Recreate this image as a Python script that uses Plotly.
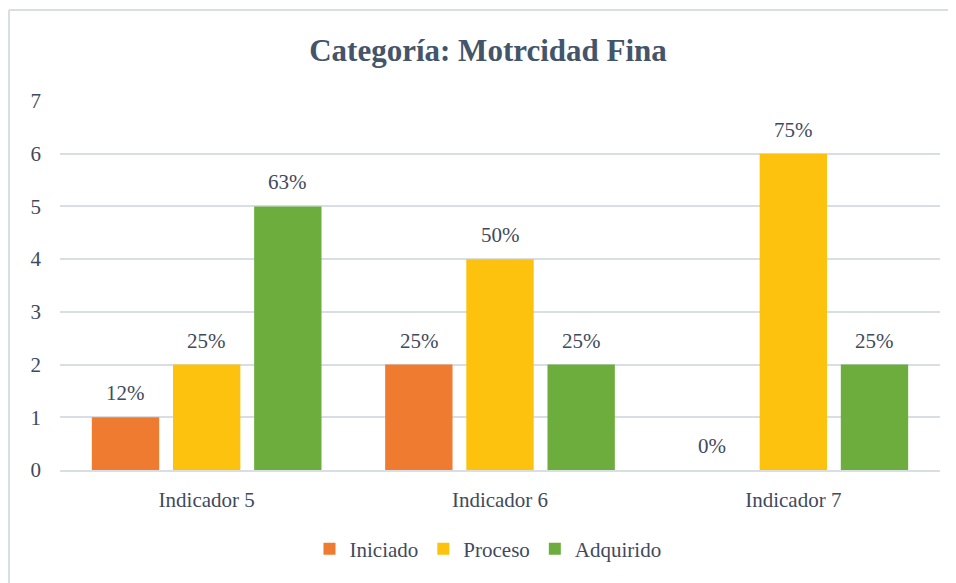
import plotly.graph_objects as go

categories = ["Indicador 5", "Indicador 6", "Indicador 7"]
series_names = ["Iniciado", "Proceso", "Adquirido"]
iniciado = [1, 2, 0]
proceso = [2, 4, 6]
adquirido = [5, 2, 2]
iniciado_pct = ["12%", "25%", "0%"]
proceso_pct = ["25%", "50%", "75%"]
adquirido_pct = ["63%", "25%", "25%"]
y_ticks = [0, 1, 2, 3, 4, 5, 6, 7]

colors = ["#EF7B30", "#FCC20E", "#6DAD3E"]
text_color = "#3F4A5C"
font_family = "Liberation Serif"

W, H = 956, 583
OFF = 8  # page offset of the plot div
M = dict(l=60 - OFF, r=W - 940 + OFF, t=101 - OFF, b=H - 470 + OFF)
pw = W - M["l"] - M["r"]
ph = H - M["t"] - M["b"]
slot = 81  # px between bar centres inside a group


def px_x(x):
    return (x - OFF - M["l"]) / pw


def px_y(y):
    return (H - M["b"] - (y - OFF)) / ph


fig = go.Figure()
annotations = []
for i, (name, vals, pct, color) in enumerate(zip(
    series_names,
    [iniciado, proceso, adquirido],
    [iniciado_pct, proceso_pct, adquirido_pct],
    colors,
)):
    fig.add_trace(
        go.Bar(
            name=name,
            x=categories,
            y=vals,
            marker=dict(color=color, line=dict(width=0)),
        )
    )
    for cat, v, t in zip(categories, vals, pct):
        annotations.append(dict(
            x=cat, y=v, text=t, showarrow=False,
            xanchor="center", yanchor="bottom",
            xshift=(i - 1) * slot, yshift=10,
            font=dict(size=21, color=text_color, family=font_family),
        ))

fig.update_layout(
    width=W,
    height=H,
    barmode="group",
    bargap=0.17,
    bargroupgap=0.17,
    margin=M,
    plot_bgcolor="#FFFFFF",
    paper_bgcolor="#FFFFFF",
    font=dict(family=font_family, color=text_color, size=21),
    annotations=annotations,
    title=dict(
        text="<b>Categoría: Motrcidad Fina</b>",
        x=(488 - OFF) / W,
        xanchor="center",
        y=1 - (50 - OFF) / H,
        yanchor="middle",
        font=dict(size=31, color="#44546A", family=font_family),
    ),
    legend=dict(
        orientation="h",
        x=px_x(488),
        xanchor="center",
        y=px_y(549),
        yanchor="middle",
        font=dict(size=21, color=text_color, family=font_family),
        itemwidth=30,
        bgcolor="rgba(0,0,0,0)",
    ),
    showlegend=True,
    shapes=[
        dict(type="line", xref="paper", yref="paper",
             x0=px_x(9), x1=px_x(9), y0=px_y(10), y1=px_y(H + 20),
             line=dict(color="#D9DEE5", width=2)),
        dict(type="line", xref="paper", yref="paper",
             x0=px_x(9), x1=px_x(W + 20), y0=px_y(10), y1=px_y(10),
             line=dict(color="#D9DEE5", width=2)),
    ],
)
fig.update_xaxes(
    showgrid=False,
    showline=True,
    linecolor="#D9DEE5",
    linewidth=2,
    ticks="",
    automargin=False,
    ticklabelstandoff=10,
    tickfont=dict(size=21, color=text_color, family=font_family),
)
fig.update_yaxes(
    range=[0, 7],
    tickvals=y_ticks,
    showgrid=True,
    gridcolor="#D9DEE5",
    gridwidth=2,
    zeroline=False,
    showline=False,
    ticks="",
    automargin=False,
    ticklabelstandoff=18,
    tickfont=dict(size=21, color=text_color, family=font_family),
)

fig.write_html("out.html")
